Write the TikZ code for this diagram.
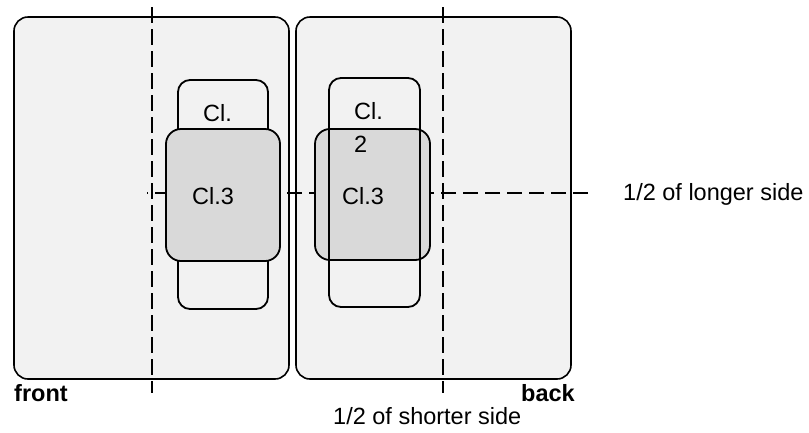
\documentclass[tikz,border=0pt]{standalone}
\usepackage{fontspec}
\setmainfont{Liberation Sans}
\begin{document}
\begin{tikzpicture}[x=1pt,y=-1pt,
  bigbox/.style={draw=black,line width=1.6pt,fill=panelgray,rounded corners=14pt,inner sep=0pt,outer sep=0pt},
  clbox/.style={draw=black,line width=1.8pt,fill=panelgray,rounded corners=12pt,inner sep=0pt,outer sep=0pt},
  clthree/.style={draw=black,line width=1.8pt,fill=clgray,rounded corners=15pt,inner sep=0pt,outer sep=0pt},
  clopen/.style={draw=black,line width=1.8pt,rounded corners=12pt,inner sep=0pt,outer sep=0pt},
  guide/.style={draw=black,line width=1.6pt,dash pattern=on 15.5pt off 6.5pt},
  lbl/.style={anchor=base west,inner sep=0pt,font=\fontsize{23.5}{28}\selectfont}]
\definecolor{panelgray}{HTML}{F2F2F2}
\definecolor{clgray}{HTML}{D9D9D9}
\useasboundingbox (0,0) rectangle (809,432);
% big panels
\node[bigbox,minimum width=275pt,minimum height=362pt] (front) at (151.5,198) {};
\node[bigbox,minimum width=275pt,minimum height=362pt] (back) at (433.5,198) {};
% guide lines
\coordinate (v1t) at (152,7);
\coordinate (v1b) at (152,393);
\coordinate (v2t) at (443,7);
\coordinate (v2b) at (443,393);
\coordinate (hl) at (147,193);
\coordinate (hr) at (588,193);
\draw[guide] (v1t) -- (v1b);
\draw[guide] (v2t) -- (v2b);
\draw[guide] (hr) -- (hl);
% left inner boxes
\node[clbox,minimum width=90pt,minimum height=229pt] (lcl) at (223,194.5) {};
\node[clthree,minimum width=114pt,minimum height=132pt] (lcl3) at (223,195) {};
% right inner boxes
\node[clthree,minimum width=115pt,minimum height=131pt] (rcl3) at (372.5,194.5) {};
\node[clopen,minimum width=91pt,minimum height=229pt] (rcl) at (374.5,192.5) {};
% labels
\node[lbl] (tlcl) at (203,121) {Cl.};
\node[lbl] (tlcl3) at (192,204) {Cl.3};
\node[lbl] (trcl) at (354,119) {Cl.};
\node[lbl] (trtwo) at (354,152) {2};
\node[lbl] (trcl3) at (342,204) {Cl.3};
\node[lbl,font=\fontsize{23.5}{28}\selectfont\bfseries] (tfront) at (14,401) {front};
\node[lbl,font=\fontsize{23.5}{28}\selectfont\bfseries] (tback) at (521,401) {back};
\node[lbl] (tshort) at (333,424) {1/2 of shorter side};
\node[lbl] (tlong) at (623,200) {1/2 of longer side};
\end{tikzpicture}
\end{document}
